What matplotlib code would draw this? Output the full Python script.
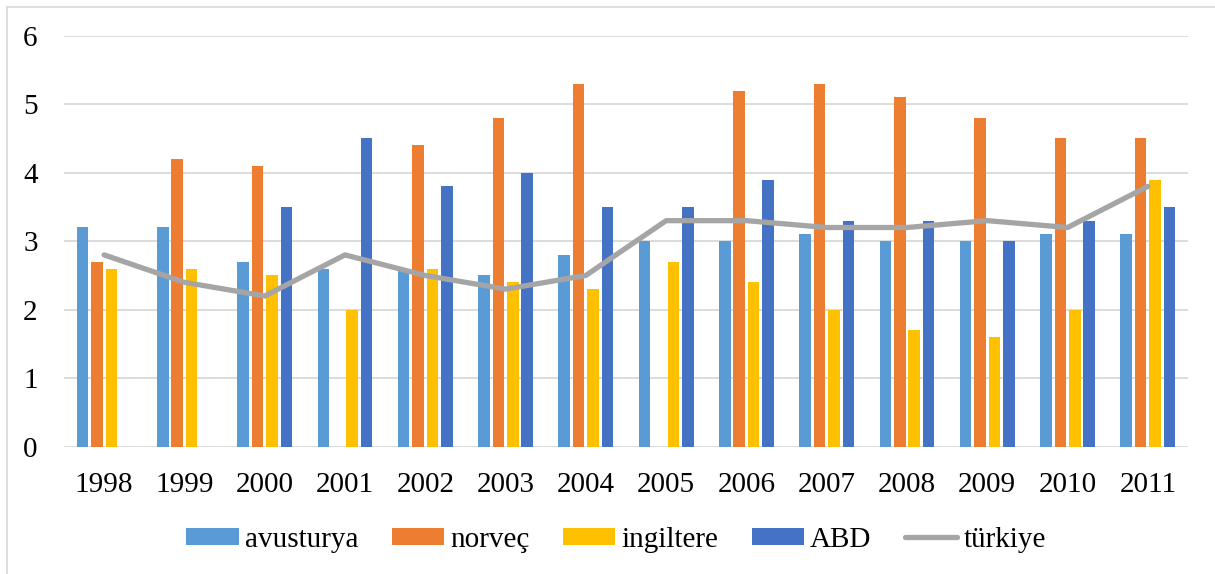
import matplotlib
matplotlib.use("Agg")
import matplotlib.pyplot as plt
import numpy as np

years = ["1998", "1999", "2000", "2001", "2002", "2003", "2004",
         "2005", "2006", "2007", "2008", "2009", "2010", "2011"]
avusturya = [3.2, 3.2, 2.7, 2.6, 2.6, 2.5, 2.8, 3.0, 3.0, 3.1, 3.0, 3.0, 3.1, 3.1]
norvec = [2.7, 4.2, 4.1, 0, 4.4, 4.8, 5.3, 0, 5.2, 5.3, 5.1, 4.8, 4.5, 4.5]
ingiltere = [2.6, 2.6, 2.5, 2.0, 2.6, 2.4, 2.3, 2.7, 2.4, 2.0, 1.7, 1.6, 2.0, 3.9]
abd = [0, 0, 3.5, 4.5, 3.8, 4.0, 3.5, 3.5, 3.9, 3.3, 3.3, 3.0, 3.3, 3.5]
turkiye = [2.8, 2.4, 2.2, 2.8, 2.5, 2.3, 2.5, 3.3, 3.3, 3.2, 3.2, 3.3, 3.2, 3.8]

plt.rcParams['font.family'] = ['Liberation Serif', 'DejaVu Serif']

fig = plt.figure(figsize=(12.15, 5.74), dpi=100)
ax = fig.add_axes([64 / 1215, 1 - 446.7 / 574, (1188 - 64) / 1215, (446.7 - 35.7) / 574])

x = np.arange(len(years))
w = 0.145
step = 0.18
series = [(avusturya, "avusturya", "#5B9BD5"),
          (norvec, "norveç", "#ED7D31"),
          (ingiltere, "ingiltere", "#FFC000"),
          (abd, "ABD", "#4472C4")]
handles = []
for i, (vals, name, col) in enumerate(series):
    b = ax.bar(x + (i - 1.5) * step, vals, width=w, color=col, label=name, zorder=2)
    handles.append(b)

ln, = ax.plot(x, turkiye, color="#A5A5A5", linewidth=3.8, label="türkiye", zorder=3,
              solid_capstyle="round")
handles.append(ln)

ax.set_xlim(-0.5, len(years) - 0.5)
ax.set_ylim(0, 6)
ax.set_yticks(range(0, 7))
ax.set_xticks(x)
ax.set_xticklabels(years)
ax.grid(axis="y", color="#D9D9D9", linewidth=1.3, zorder=0)
ax.set_axisbelow(True)
for s in ax.spines.values():
    s.set_visible(False)
ax.tick_params(axis="both", length=0, labelsize=21)
ax.tick_params(axis="y", pad=19)
ax.tick_params(axis="x", pad=18)

fig.legend(handles=handles, labels=[h.get_label() for h in handles],
           loc="center", bbox_to_anchor=(616 / 1215, 1 - 540 / 574), ncol=5,
           frameon=False, fontsize=21, handlelength=1.8, handleheight=0.55,
           columnspacing=1.15, handletextpad=0.2)

# outer chart border
fig.add_artist(plt.Line2D([7 / 1215, 1], [1 - 7 / 574, 1 - 7 / 574],
                          color="#D9D9D9", linewidth=1.2, transform=fig.transFigure))
fig.add_artist(plt.Line2D([7 / 1215, 7 / 1215], [0, 1 - 7 / 574],
                          color="#D9D9D9", linewidth=1.2, transform=fig.transFigure))

fig.savefig("out.png", dpi=100)
